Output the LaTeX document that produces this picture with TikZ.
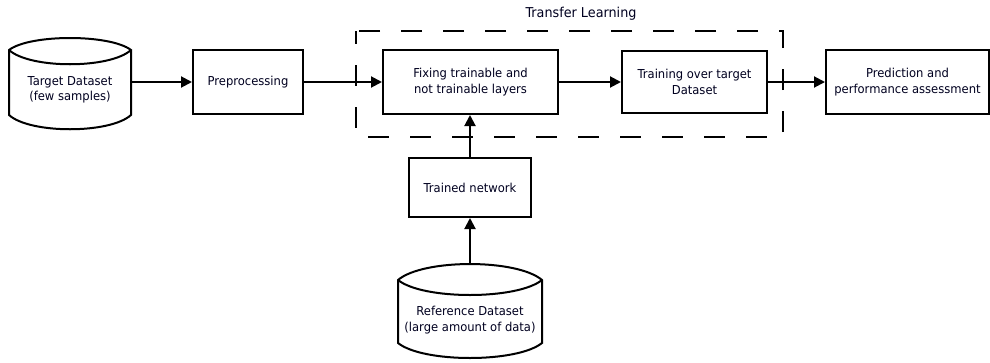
\documentclass[tikz,border=0pt]{standalone}
\usepackage{fontspec}
\setmainfont{DejaVu Sans}[FakeStretch=0.94]
\usetikzlibrary{arrows.meta}
\tikzset{
  lbl/.style={align=center, font=\fontsize{12.3}{15.5}\selectfont, text=black!88!blue},
  procbox/.style={draw, line width=2pt, lbl, inner sep=0pt},
  ghost/.style={inner sep=0pt},
  conn/.style={line width=2pt, -{Triangle[length=11pt,width=11pt]}},
  cyl/.style={line width=2pt},
  grp/.style={line width=2pt, dash pattern=on 21pt off 21pt, dash phase=8pt}
}
\begin{document}
\begin{tikzpicture}[x=1pt,y=-1pt]
\useasboundingbox (0,0) rectangle (990,362);
% Target dataset cylinder
\draw[cyl] (9,50) .. controls (30,34) and (110,34) .. (131,50) -- (131,115)
  .. controls (110,134) and (30,134) .. (9,115) -- cycle;
\draw[cyl] (9,50) .. controls (30,69) and (110,69) .. (131,50);
\node[ghost, minimum width=122pt, minimum height=66pt] (tgt) at (70,82) {};
\node[lbl] (tgtl) at (70,90) {Target Dataset\\(few samples)};
% Reference dataset cylinder
\draw[cyl] (398,280) .. controls (423,258.7) and (517,258.7) .. (542,280) -- (542,343)
  .. controls (517,363) and (423,363) .. (398,343) -- cycle;
\draw[cyl] (398,280) .. controls (423,300) and (517,300) .. (542,280);
\node[ghost, minimum width=144pt, minimum height=94pt] (ref) at (470,311) {};
\node[lbl] (refl) at (470,320) {Reference Dataset\\(large amount of data)};
% Boxes
\node[procbox, minimum width=110pt, minimum height=64pt] (pre) at (248,82) {Preprocessing};
\node[procbox, minimum width=175pt, minimum height=64pt] (fix) at (470.5,82) {Fixing trainable and\\not trainable layers};
\node[procbox, minimum width=145pt, minimum height=62pt] (trn) at (694.5,82) {Training over target\\Dataset};
\node[procbox, minimum width=163pt, minimum height=64pt] (pred) at (907.5,82) {Prediction and\\performance assessment};
\node[procbox, minimum width=122pt, minimum height=59pt] (tn) at (470,187.5) {Trained network};
% Transfer learning group
\draw[grp] (356,31) rectangle (783,137);
\node[lbl, font=\fontsize{13.6}{15}\selectfont] (tl) at (581,14) {Transfer Learning};
% Connectors
\draw[conn] (tgt.east) -- (pre.west);
\draw[conn] (pre.east) -- (fix.west);
\draw[conn] (fix.east) -- (trn.west);
\draw[conn] (trn.east) -- (pred.west);
\draw[conn] (tn.north) -- (fix.south -| tn.north);
\draw[conn] (ref.north) -- (tn.south);
\end{tikzpicture}
\end{document}
